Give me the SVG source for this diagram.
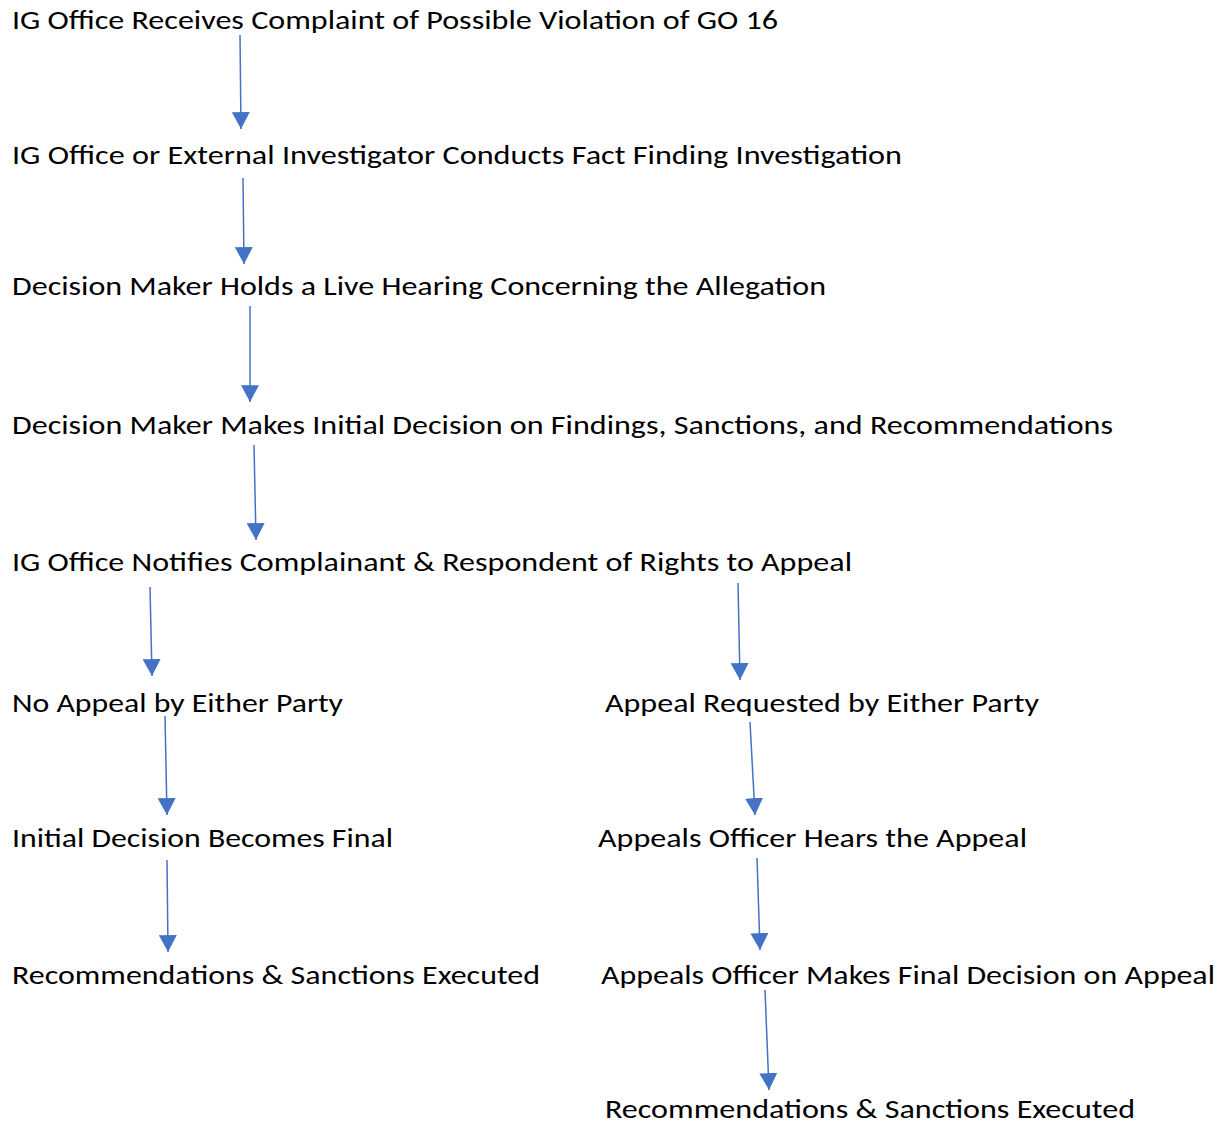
<svg xmlns="http://www.w3.org/2000/svg" width="1225" height="1125" viewBox="0 0 1225 1125">
<style>
text{font-family:Carlito,"Liberation Sans","Open Sans",sans-serif;font-size:27px;fill:#000}
.c line{stroke:#4472C4;stroke-width:1.5;fill:none;marker-end:url(#ah)}
</style>
<defs>
<marker id="ah" markerUnits="userSpaceOnUse" markerWidth="18" markerHeight="18" viewBox="0 0 16 16" refX="15" refY="8" orient="auto">
<path d="M0,0 L15,8 L0,16 Z" fill="#4472C4"/>
</marker>
</defs>
<rect width="1225" height="1125" fill="#fff"/>
<g id="n1"><text x="12" y="29" textLength="766" lengthAdjust="spacingAndGlyphs">IG Office Receives Complaint of Possible Violation of GO 16</text></g>
<g id="n2"><text x="12" y="164" textLength="890" lengthAdjust="spacingAndGlyphs">IG Office or External Investigator Conducts Fact Finding Investigation</text></g>
<g id="n3"><text x="12" y="295" textLength="814" lengthAdjust="spacingAndGlyphs">Decision Maker Holds a Live Hearing Concerning the Allegation</text></g>
<g id="n4"><text x="12" y="434" textLength="1101" lengthAdjust="spacingAndGlyphs">Decision Maker Makes Initial Decision on Findings, Sanctions, and Recommendations</text></g>
<g id="n5"><text x="12" y="571" textLength="840" lengthAdjust="spacingAndGlyphs">IG Office Notifies Complainant &amp; Respondent of Rights to Appeal</text></g>
<g id="n6"><text x="12" y="712" textLength="331" lengthAdjust="spacingAndGlyphs">No Appeal by Either Party</text></g>
<g id="n7"><text x="605" y="712" textLength="434" lengthAdjust="spacingAndGlyphs">Appeal Requested by Either Party</text></g>
<g id="n8"><text x="12" y="847" textLength="381" lengthAdjust="spacingAndGlyphs">Initial Decision Becomes Final</text></g>
<g id="n9"><text x="598" y="847" textLength="429" lengthAdjust="spacingAndGlyphs">Appeals Officer Hears the Appeal</text></g>
<g id="n10"><text x="12" y="984" textLength="528" lengthAdjust="spacingAndGlyphs">Recommendations &amp; Sanctions Executed</text></g>
<g id="n11"><text x="601" y="984" textLength="614" lengthAdjust="spacingAndGlyphs">Appeals Officer Makes Final Decision on Appeal</text></g>
<g id="n12"><text x="605" y="1118" textLength="530" lengthAdjust="spacingAndGlyphs">Recommendations &amp; Sanctions Executed</text></g>
<g class="c" id="connectors">
<line x1="240" y1="35" x2="241" y2="129"/>
<line x1="243" y1="178" x2="244" y2="264"/>
<line x1="250" y1="306" x2="250" y2="402"/>
<line x1="254" y1="445" x2="256" y2="540"/>
<line x1="150" y1="587" x2="152" y2="676"/>
<line x1="738" y1="583" x2="740" y2="680"/>
<line x1="165" y1="716" x2="167" y2="815"/>
<line x1="750" y1="722" x2="755" y2="815"/>
<line x1="167" y1="860" x2="168" y2="952"/>
<line x1="757" y1="858" x2="760" y2="950"/>
<line x1="765" y1="990" x2="769" y2="1090"/>
</g>
</svg>
